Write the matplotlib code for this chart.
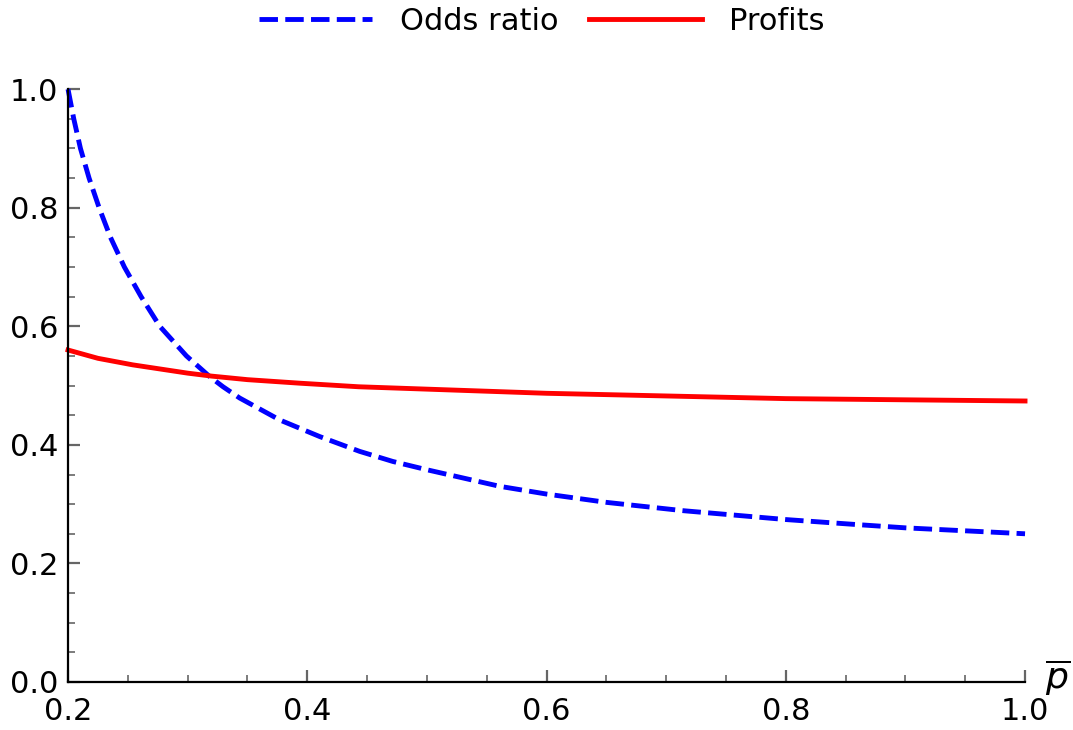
import matplotlib
matplotlib.use('Agg')
import matplotlib.pyplot as plt
from matplotlib.ticker import MultipleLocator

plt.rcParams['font.family'] = ['DejaVu Sans']
plt.rcParams['mathtext.fontset'] = 'dejavusans'

# valores
p_odds = [0.200, 0.2048, 0.2104, 0.2176, 0.2260, 0.2355, 0.2471, 0.2611, 0.2767,
          0.2990, 0.3185, 0.3296, 0.3435, 0.3770, 0.4104, 0.4438, 0.4715, 0.500,
          0.561, 0.600, 0.650, 0.714, 0.800, 0.856, 0.900, 0.950, 1.000]
odds_ratio = [1.000, 0.950, 0.900, 0.850, 0.800, 0.750, 0.700, 0.650, 0.600,
              0.550, 0.515, 0.498, 0.479, 0.442, 0.414, 0.389, 0.372, 0.358,
              0.330, 0.317, 0.303, 0.289, 0.274, 0.266, 0.260, 0.255, 0.250]

p_prof = [0.200, 0.225, 0.254, 0.300, 0.320, 0.350, 0.394, 0.443, 0.500, 0.600,
          0.711, 0.800, 0.900, 1.000]
profits = [0.560, 0.546, 0.535, 0.521, 0.516, 0.510, 0.504, 0.498, 0.494, 0.487,
           0.482, 0.478, 0.476, 0.474]

fig = plt.figure(figsize=(10.73, 7.3), dpi=100)
ax = fig.add_axes([0.0634, 0.0658, 0.8919, 0.812])

ax.plot(p_odds, odds_ratio, color='#0000ff', lw=3.5, dashes=(3.8, 1.5),
        label='Odds ratio', clip_on=False)
ax.plot(p_prof, profits, color='#ff0000', lw=3.5, label='Profits', clip_on=False)

ax.set_xlim(0.2, 1.0)
ax.set_ylim(0.0, 1.0)
ax.xaxis.set_major_locator(MultipleLocator(0.2))
ax.xaxis.set_minor_locator(MultipleLocator(0.05))
ax.yaxis.set_major_locator(MultipleLocator(0.2))
ax.yaxis.set_minor_locator(MultipleLocator(0.05))
ax.xaxis.set_major_formatter(lambda v, pos: f'{v:.1f}')
ax.yaxis.set_major_formatter(lambda v, pos: f'{v:.1f}')

for s in ['top', 'right']:
    ax.spines[s].set_visible(False)
for s in ['left', 'bottom']:
    ax.spines[s].set_linewidth(1.6)
    ax.spines[s].set_color('black')

ax.tick_params(which='both', direction='in', color='#666666', labelsize=22)
ax.tick_params(which='major', length=8.5, width=1.6)
ax.tick_params(which='minor', length=5, width=1.2)
ax.tick_params(axis='x', pad=11)
ax.tick_params(axis='y', pad=7)

ax.text(1.021, 0.008, r'$\overline{p}$', transform=ax.transAxes,
        fontsize=26, ha='left', va='center')

fig.legend(loc='upper center', bbox_to_anchor=(0.505, 1.028), ncol=2,
           frameon=False, fontsize=22, handlelength=3.7, columnspacing=1.0,
           handletextpad=0.9)

fig.savefig('out.png', dpi=100)
